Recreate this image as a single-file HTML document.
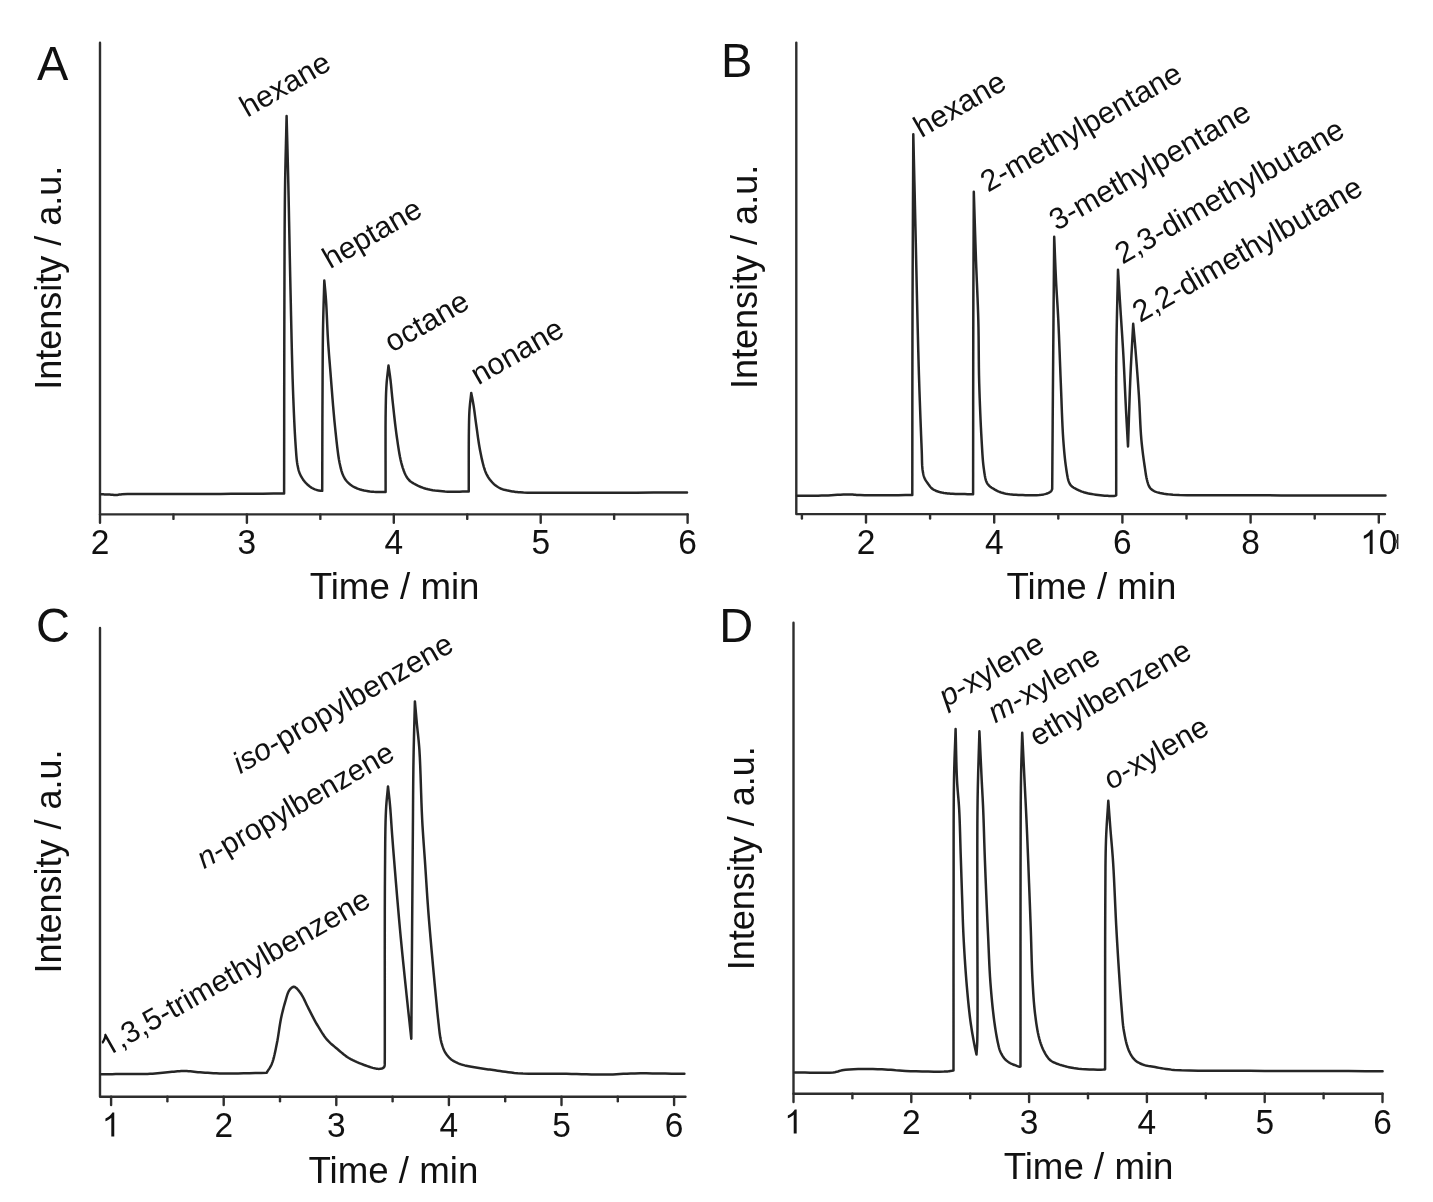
<!DOCTYPE html>
<html><head><meta charset="utf-8"><style>
html,body{margin:0;padding:0;background:#fff;}
svg{display:block;filter:grayscale(100%) blur(0.4px);}
text{font-family:"Liberation Sans", sans-serif;fill:#111;}
</style></head><body>
<svg width="1433" height="1202" viewBox="0 0 1433 1202">
<rect width="1433" height="1202" fill="#fff"/>
<path d="M100,42.7 L100,514.4 L687.7,514.4" fill="none" stroke="#2e2e2e" stroke-width="2.4" stroke-linejoin="round" stroke-linecap="round"/>
<line x1="100.0" y1="514.4" x2="100.0" y2="522.8" stroke="#2e2e2e" stroke-width="2.4" stroke-linecap="round"/>
<line x1="246.9" y1="514.4" x2="246.9" y2="522.8" stroke="#2e2e2e" stroke-width="2.4" stroke-linecap="round"/>
<line x1="393.8" y1="514.4" x2="393.8" y2="522.8" stroke="#2e2e2e" stroke-width="2.4" stroke-linecap="round"/>
<line x1="540.7" y1="514.4" x2="540.7" y2="522.8" stroke="#2e2e2e" stroke-width="2.4" stroke-linecap="round"/>
<line x1="687.6" y1="514.4" x2="687.6" y2="522.8" stroke="#2e2e2e" stroke-width="2.4" stroke-linecap="round"/>
<line x1="173.45" y1="514.4" x2="173.45" y2="518.9" stroke="#2e2e2e" stroke-width="2.4" stroke-linecap="round"/>
<line x1="320.35" y1="514.4" x2="320.35" y2="518.9" stroke="#2e2e2e" stroke-width="2.4" stroke-linecap="round"/>
<line x1="467.25" y1="514.4" x2="467.25" y2="518.9" stroke="#2e2e2e" stroke-width="2.4" stroke-linecap="round"/>
<line x1="614.15" y1="514.4" x2="614.15" y2="518.9" stroke="#2e2e2e" stroke-width="2.4" stroke-linecap="round"/>
<g transform="translate(100.00 554.00) scale(1 1.035)"><text x="-9.32" y="0" font-size="33.5">2</text></g>
<g transform="translate(246.90 554.00) scale(1 1.035)"><text x="-9.32" y="0" font-size="33.5">3</text></g>
<g transform="translate(393.80 554.00) scale(1 1.035)"><text x="-9.32" y="0" font-size="33.5">4</text></g>
<g transform="translate(540.70 554.00) scale(1 1.035)"><text x="-9.32" y="0" font-size="33.5">5</text></g>
<g transform="translate(687.60 554.00) scale(1 1.035)"><text x="-9.32" y="0" font-size="33.5">6</text></g>
<path d="M101.00,494.30 L102.14,494.34 L103.29,494.37 L104.46,494.40 L105.61,494.44 L106.76,494.47 L107.88,494.51 L108.96,494.55 L110.00,494.60 L110.81,494.65 L111.59,494.72 L112.34,494.79 L113.08,494.86 L113.80,494.92 L114.53,494.97 L115.26,495.00 L116.00,495.00 L116.70,494.96 L117.34,494.90 L117.95,494.81 L118.57,494.70 L119.25,494.59 L120.02,494.48 L120.92,494.38 L122.00,494.30 L127.50,494.10 L135.22,493.99 L144.65,493.94 L155.30,493.94 L166.65,493.97 L178.22,494.01 L189.51,494.02 L200.00,494.00 L210.36,493.95 L220.80,493.89 L231.31,493.83 L241.85,493.76 L252.42,493.70 L263.00,493.63 L273.57,493.56 L284.10,493.50 L284.13,468.94 L284.16,443.85 L284.19,418.55 L284.21,393.36 L284.25,368.59 L284.29,344.56 L284.34,321.59 L284.40,300.00 L284.45,284.62 L284.49,269.82 L284.54,255.53 L284.59,241.71 L284.65,228.30 L284.74,215.25 L284.85,202.50 L285.00,190.00 L285.15,180.05 L285.33,170.47 L285.53,161.18 L285.74,152.09 L285.96,143.11 L286.18,134.16 L286.39,125.15 L286.60,116.00 L286.81,124.27 L287.02,132.38 L287.24,140.44 L287.45,148.52 L287.66,156.73 L287.87,165.15 L288.09,173.88 L288.30,183.00 L288.57,195.21 L288.84,208.08 L289.10,221.46 L289.37,235.17 L289.64,249.04 L289.92,262.92 L290.21,276.63 L290.50,290.00 L290.79,302.87 L291.07,315.93 L291.36,329.05 L291.65,342.07 L291.96,354.82 L292.29,367.17 L292.63,378.94 L293.00,390.00 L293.29,397.84 L293.59,405.54 L293.90,413.02 L294.22,420.23 L294.55,427.09 L294.89,433.55 L295.24,439.54 L295.60,445.00 L295.81,448.03 L296.01,450.89 L296.20,453.58 L296.40,456.13 L296.62,458.53 L296.87,460.80 L297.16,462.96 L297.50,465.00 L297.75,466.31 L298.00,467.54 L298.26,468.70 L298.53,469.80 L298.84,470.87 L299.18,471.91 L299.56,472.95 L300.00,474.00 L300.49,475.06 L301.03,476.12 L301.60,477.16 L302.21,478.19 L302.86,479.19 L303.54,480.16 L304.26,481.10 L305.00,482.00 L305.77,482.86 L306.58,483.71 L307.43,484.53 L308.30,485.33 L309.20,486.08 L310.12,486.78 L311.06,487.42 L312.00,488.00 L312.92,488.48 L313.89,488.92 L314.90,489.31 L315.92,489.66 L316.91,489.96 L317.86,490.22 L318.73,490.43 L319.50,490.60 L319.90,490.67 L320.26,490.72 L320.60,490.75 L320.93,490.76 L321.24,490.77 L321.55,490.77 L321.87,490.78 L322.20,490.80 L322.24,479.37 L322.27,467.82 L322.30,456.23 L322.33,444.66 L322.37,433.19 L322.40,421.87 L322.45,410.79 L322.50,400.00 L322.54,390.73 L322.58,381.58 L322.62,372.55 L322.67,363.67 L322.72,354.96 L322.79,346.44 L322.88,338.11 L323.00,330.00 L323.12,323.40 L323.27,317.02 L323.43,310.81 L323.60,304.71 L323.78,298.69 L323.96,292.67 L324.13,286.63 L324.30,280.50 L324.51,282.89 L324.73,285.21 L324.95,287.51 L325.17,289.81 L325.38,292.18 L325.59,294.64 L325.80,297.23 L326.00,300.00 L326.27,304.35 L326.52,309.11 L326.75,314.16 L326.99,319.41 L327.22,324.72 L327.46,330.00 L327.72,335.13 L328.00,340.00 L328.27,344.07 L328.54,347.96 L328.82,351.74 L329.10,355.49 L329.41,359.28 L329.72,363.18 L330.05,367.26 L330.40,371.60 L330.89,377.82 L331.41,384.53 L331.96,391.58 L332.53,398.81 L333.12,406.08 L333.73,413.21 L334.36,420.07 L335.00,426.50 L335.53,431.56 L336.06,436.62 L336.60,441.62 L337.15,446.48 L337.73,451.11 L338.32,455.46 L338.94,459.45 L339.60,463.00 L339.99,464.85 L340.37,466.58 L340.75,468.18 L341.15,469.68 L341.56,471.10 L342.00,472.45 L342.48,473.74 L343.00,475.00 L343.42,475.94 L343.85,476.83 L344.29,477.67 L344.75,478.48 L345.24,479.26 L345.78,480.02 L346.36,480.76 L347.00,481.50 L347.80,482.34 L348.66,483.17 L349.57,483.97 L350.55,484.75 L351.58,485.50 L352.66,486.21 L353.80,486.88 L355.00,487.50 L356.60,488.21 L358.34,488.85 L360.19,489.44 L362.12,489.96 L364.09,490.43 L366.08,490.84 L368.06,491.19 L370.00,491.50 L371.92,491.73 L373.86,491.87 L375.81,491.94 L377.76,491.97 L379.73,491.97 L381.69,491.96 L383.65,491.96 L385.60,492.00 L385.60,481.43 L385.58,470.39 L385.56,459.17 L385.54,448.04 L385.54,437.28 L385.55,427.17 L385.60,417.99 L385.70,410.00 L385.76,406.16 L385.83,402.66 L385.89,399.43 L385.97,396.40 L386.06,393.50 L386.18,390.69 L386.32,387.87 L386.50,385.00 L386.69,382.45 L386.91,379.97 L387.16,377.54 L387.42,375.14 L387.70,372.76 L387.97,370.39 L388.24,368.01 L388.50,365.60 L388.75,367.38 L389.01,369.14 L389.26,370.89 L389.52,372.65 L389.77,374.42 L390.02,376.23 L390.26,378.09 L390.50,380.00 L390.76,382.30 L391.00,384.62 L391.23,386.98 L391.46,389.40 L391.69,391.90 L391.94,394.49 L392.20,397.18 L392.50,400.00 L392.95,404.18 L393.44,408.74 L393.97,413.55 L394.52,418.50 L395.09,423.49 L395.69,428.39 L396.29,433.10 L396.90,437.50 L397.40,440.93 L397.89,444.32 L398.40,447.65 L398.91,450.88 L399.45,454.01 L400.01,457.00 L400.61,459.84 L401.25,462.50 L401.74,464.33 L402.25,466.10 L402.77,467.80 L403.31,469.42 L403.86,470.96 L404.43,472.41 L405.01,473.76 L405.60,475.00 L406.00,475.77 L406.39,476.48 L406.79,477.14 L407.19,477.77 L407.60,478.35 L408.04,478.92 L408.50,479.46 L409.00,480.00 L409.51,480.51 L410.03,480.98 L410.56,481.42 L411.12,481.84 L411.71,482.25 L412.34,482.66 L413.02,483.07 L413.75,483.50 L414.97,484.18 L416.30,484.88 L417.75,485.59 L419.29,486.29 L420.90,486.98 L422.56,487.63 L424.27,488.22 L426.00,488.75 L428.14,489.30 L430.37,489.77 L432.68,490.18 L435.07,490.53 L437.51,490.83 L439.98,491.09 L442.49,491.31 L445.00,491.50 L447.84,491.65 L450.74,491.73 L453.70,491.74 L456.70,491.70 L459.72,491.64 L462.75,491.58 L465.76,491.52 L468.75,491.50 L468.76,483.72 L468.76,475.64 L468.76,467.44 L468.76,459.29 L468.76,451.40 L468.79,443.93 L468.83,437.07 L468.90,431.00 L468.95,427.84 L468.99,424.93 L469.04,422.23 L469.09,419.68 L469.16,417.23 L469.24,414.84 L469.35,412.44 L469.50,410.00 L469.66,407.79 L469.86,405.62 L470.07,403.49 L470.30,401.38 L470.54,399.29 L470.79,397.21 L471.02,395.11 L471.25,393.00 L471.53,394.48 L471.81,395.93 L472.10,397.36 L472.38,398.81 L472.66,400.27 L472.94,401.78 L473.22,403.35 L473.50,405.00 L473.85,407.24 L474.19,409.59 L474.52,412.03 L474.85,414.54 L475.18,417.11 L475.53,419.72 L475.88,422.36 L476.25,425.00 L476.68,428.02 L477.11,431.14 L477.54,434.34 L477.99,437.56 L478.46,440.78 L478.95,443.95 L479.46,447.04 L480.00,450.00 L480.50,452.54 L481.01,455.10 L481.55,457.64 L482.10,460.12 L482.66,462.51 L483.24,464.77 L483.82,466.86 L484.40,468.75 L484.77,469.84 L485.13,470.86 L485.50,471.81 L485.87,472.70 L486.25,473.56 L486.64,474.38 L487.06,475.19 L487.50,476.00 L487.92,476.72 L488.36,477.43 L488.82,478.11 L489.29,478.78 L489.77,479.42 L490.26,480.05 L490.76,480.66 L491.25,481.25 L491.69,481.77 L492.13,482.27 L492.57,482.75 L493.01,483.22 L493.47,483.67 L493.95,484.12 L494.46,484.56 L495.00,485.00 L495.68,485.51 L496.39,486.02 L497.13,486.53 L497.90,487.02 L498.71,487.49 L499.53,487.94 L500.38,488.36 L501.25,488.75 L502.25,489.14 L503.29,489.48 L504.36,489.79 L505.46,490.06 L506.58,490.32 L507.72,490.55 L508.86,490.78 L510.00,491.00 L511.17,491.22 L512.29,491.42 L513.40,491.60 L514.53,491.76 L515.72,491.91 L517.01,492.05 L518.42,492.18 L520.00,492.30 L523.57,492.50 L527.59,492.63 L532.05,492.71 L536.92,492.75 L542.18,492.77 L547.79,492.77 L553.74,492.78 L560.00,492.80 L572.46,492.84 L586.73,492.83 L602.40,492.80 L619.04,492.75 L636.24,492.68 L653.58,492.61 L670.64,492.55 L687.00,492.50" fill="none" stroke="#262626" stroke-width="2.5" stroke-linejoin="round" stroke-linecap="round"/>
<text font-size="47" transform="translate(36.9 79.7) scale(1 1.01)">A</text>
<text x="61.5" y="277.7" font-size="36" text-anchor="middle" transform="rotate(-90 61.5 277.7)">Intensity / a.u.</text>
<text x="394.6" y="599.4" font-size="36.7" text-anchor="middle">Time / min</text>
<text x="247.2" y="117.8" font-size="30.1" transform="rotate(-30 247.2 117.8)" text-anchor="start" >hexane</text>
<text x="329.9" y="269.3" font-size="30.1" transform="rotate(-30 329.9 269.3)" text-anchor="start" >heptane</text>
<text x="392" y="353.1" font-size="30.5" transform="rotate(-30 392 353.1)" text-anchor="start" >octane</text>
<text x="478.2" y="385.6" font-size="30.4" transform="rotate(-30 478.2 385.6)" text-anchor="start" >nonane</text>
<path d="M796.3,42.6 L796.3,514.1 L1385,514.1" fill="none" stroke="#2e2e2e" stroke-width="2.4" stroke-linejoin="round" stroke-linecap="round"/>
<line x1="866.0" y1="514.1" x2="866.0" y2="522.5" stroke="#2e2e2e" stroke-width="2.4" stroke-linecap="round"/>
<line x1="994.2" y1="514.1" x2="994.2" y2="522.5" stroke="#2e2e2e" stroke-width="2.4" stroke-linecap="round"/>
<line x1="1122.4" y1="514.1" x2="1122.4" y2="522.5" stroke="#2e2e2e" stroke-width="2.4" stroke-linecap="round"/>
<line x1="1250.6" y1="514.1" x2="1250.6" y2="522.5" stroke="#2e2e2e" stroke-width="2.4" stroke-linecap="round"/>
<line x1="1378.8" y1="514.1" x2="1378.8" y2="522.5" stroke="#2e2e2e" stroke-width="2.4" stroke-linecap="round"/>
<line x1="801.9" y1="514.1" x2="801.9" y2="518.6" stroke="#2e2e2e" stroke-width="2.4" stroke-linecap="round"/>
<line x1="930.1" y1="514.1" x2="930.1" y2="518.6" stroke="#2e2e2e" stroke-width="2.4" stroke-linecap="round"/>
<line x1="1058.3" y1="514.1" x2="1058.3" y2="518.6" stroke="#2e2e2e" stroke-width="2.4" stroke-linecap="round"/>
<line x1="1186.5" y1="514.1" x2="1186.5" y2="518.6" stroke="#2e2e2e" stroke-width="2.4" stroke-linecap="round"/>
<line x1="1314.6999999999998" y1="514.1" x2="1314.6999999999998" y2="518.6" stroke="#2e2e2e" stroke-width="2.4" stroke-linecap="round"/>
<g transform="translate(866.00 554.00) scale(1 1.035)"><text x="-9.32" y="0" font-size="33.5">2</text></g>
<g transform="translate(994.20 554.00) scale(1 1.035)"><text x="-9.32" y="0" font-size="33.5">4</text></g>
<g transform="translate(1122.40 554.00) scale(1 1.035)"><text x="-9.32" y="0" font-size="33.5">6</text></g>
<g transform="translate(1250.60 554.00) scale(1 1.035)"><text x="-9.32" y="0" font-size="33.5">8</text></g>
<g transform="translate(1378.80 554.00) scale(1 1.035)"><path d="M763 0H583V1147Q518 1085 412.5 1023T223 930V1104Q374 1175 487 1276T647 1472H763V0Z" transform="translate(-18.63 0) scale(0.01636 -0.01587)" fill="#111"/><text x="0.00" y="0" font-size="33.5">0</text></g>
<path d="M797.00,495.80 L800.52,495.77 L804.06,495.75 L807.61,495.73 L811.15,495.71 L814.68,495.68 L818.17,495.64 L821.62,495.58 L825.00,495.50 L828.11,495.38 L831.24,495.22 L834.37,495.04 L837.46,494.84 L840.46,494.67 L843.35,494.52 L846.07,494.42 L848.60,494.40 L850.16,494.43 L851.54,494.50 L852.81,494.59 L854.04,494.70 L855.30,494.82 L856.66,494.93 L858.21,495.03 L860.00,495.10 L864.72,495.20 L870.40,495.24 L876.83,495.25 L883.77,495.23 L891.02,495.19 L898.33,495.15 L905.50,495.11 L912.30,495.10 L912.32,473.25 L912.34,451.45 L912.35,429.67 L912.36,407.87 L912.38,386.04 L912.41,364.14 L912.45,342.14 L912.50,320.00 L912.57,297.04 L912.66,273.94 L912.76,250.73 L912.86,227.44 L912.97,204.12 L913.09,180.78 L913.20,157.46 L913.30,134.20 L913.58,146.20 L913.85,158.22 L914.13,170.26 L914.41,182.29 L914.69,194.29 L914.96,206.26 L915.23,218.17 L915.50,230.00 L915.76,241.49 L916.01,253.07 L916.26,264.66 L916.51,276.18 L916.75,287.55 L917.00,298.69 L917.25,309.54 L917.50,320.00 L917.71,328.40 L917.91,336.49 L918.10,344.36 L918.30,352.08 L918.51,359.73 L918.72,367.38 L918.95,375.11 L919.20,383.00 L919.48,391.55 L919.80,400.53 L920.13,409.70 L920.47,418.83 L920.81,427.66 L921.13,435.97 L921.44,443.49 L921.70,450.00 L921.81,453.12 L921.89,456.04 L921.95,458.76 L922.01,461.31 L922.09,463.69 L922.21,465.92 L922.37,468.02 L922.60,470.00 L922.77,471.19 L922.95,472.30 L923.14,473.34 L923.35,474.33 L923.58,475.28 L923.85,476.20 L924.15,477.10 L924.50,478.00 L924.87,478.82 L925.28,479.62 L925.73,480.40 L926.20,481.15 L926.70,481.89 L927.20,482.61 L927.70,483.31 L928.20,484.00 L928.65,484.62 L929.10,485.24 L929.55,485.84 L930.01,486.43 L930.48,486.99 L930.97,487.53 L931.47,488.03 L932.00,488.50 L932.51,488.90 L933.03,489.26 L933.57,489.60 L934.12,489.91 L934.69,490.20 L935.28,490.47 L935.88,490.74 L936.50,491.00 L937.24,491.29 L938.01,491.55 L938.81,491.80 L939.62,492.03 L940.46,492.24 L941.30,492.44 L942.15,492.63 L943.00,492.80 L943.88,492.97 L944.74,493.11 L945.60,493.23 L946.47,493.34 L947.38,493.44 L948.34,493.53 L949.38,493.62 L950.50,493.70 L952.77,493.83 L955.53,493.93 L958.59,494.01 L961.75,494.08 L964.80,494.12 L967.56,494.16 L969.83,494.18 L971.40,494.20 L971.70,494.20 L971.96,494.20 L972.18,494.20 L972.37,494.20 L972.55,494.20 L972.72,494.20 L972.90,494.20 L973.10,494.20 L973.12,472.24 L973.14,450.03 L973.16,427.71 L973.17,405.44 L973.19,383.38 L973.22,361.68 L973.26,340.50 L973.30,320.00 L973.35,303.03 L973.40,286.55 L973.47,270.45 L973.53,254.63 L973.60,238.95 L973.67,223.32 L973.74,207.60 L973.80,191.70 L974.07,200.27 L974.34,208.88 L974.61,217.51 L974.88,226.13 L975.16,234.71 L975.43,243.24 L975.71,251.67 L976.00,260.00 L976.29,267.68 L976.59,275.24 L976.91,282.72 L977.22,290.15 L977.53,297.56 L977.82,304.99 L978.08,312.46 L978.30,320.00 L978.47,327.82 L978.59,335.72 L978.67,343.65 L978.74,351.60 L978.81,359.54 L978.89,367.44 L979.02,375.27 L979.20,383.00 L979.42,390.40 L979.68,397.93 L979.96,405.47 L980.26,412.94 L980.58,420.23 L980.92,427.24 L981.26,433.86 L981.60,440.00 L981.83,444.03 L982.05,447.90 L982.27,451.61 L982.50,455.17 L982.74,458.58 L983.02,461.84 L983.33,464.94 L983.70,467.90 L983.98,469.95 L984.26,471.96 L984.55,473.90 L984.86,475.77 L985.20,477.52 L985.58,479.14 L986.01,480.61 L986.50,481.90 L986.82,482.57 L987.15,483.18 L987.50,483.73 L987.87,484.23 L988.25,484.69 L988.65,485.14 L989.07,485.57 L989.50,486.00 L989.94,486.41 L990.41,486.79 L990.89,487.15 L991.38,487.49 L991.89,487.82 L992.42,488.14 L992.95,488.47 L993.50,488.80 L994.13,489.18 L994.78,489.57 L995.45,489.95 L996.13,490.33 L996.82,490.70 L997.54,491.05 L998.26,491.39 L999.00,491.70 L999.80,492.01 L1000.60,492.30 L1001.40,492.57 L1002.23,492.83 L1003.09,493.06 L1004.00,493.29 L1004.96,493.50 L1006.00,493.70 L1007.73,493.98 L1009.63,494.23 L1011.67,494.45 L1013.82,494.64 L1016.04,494.80 L1018.30,494.93 L1020.56,495.03 L1022.80,495.10 L1025.38,495.16 L1028.13,495.21 L1030.98,495.23 L1033.83,495.21 L1036.61,495.13 L1039.23,494.98 L1041.62,494.74 L1043.70,494.40 L1044.81,494.15 L1045.88,493.86 L1046.88,493.55 L1047.81,493.21 L1048.67,492.85 L1049.45,492.46 L1050.12,492.04 L1050.70,491.60 L1051.00,491.31 L1051.23,491.00 L1051.43,490.67 L1051.59,490.34 L1051.74,490.00 L1051.88,489.67 L1052.03,489.33 L1052.20,489.00 L1052.30,475.48 L1052.39,462.10 L1052.49,448.78 L1052.59,435.43 L1052.68,421.97 L1052.78,408.30 L1052.89,394.34 L1053.00,380.00 L1053.14,363.02 L1053.28,345.55 L1053.43,327.70 L1053.58,309.57 L1053.74,291.30 L1053.89,272.98 L1054.05,254.75 L1054.20,236.70 L1054.42,242.12 L1054.64,247.57 L1054.85,253.01 L1055.06,258.46 L1055.28,263.89 L1055.51,269.30 L1055.75,274.67 L1056.00,280.00 L1056.26,285.01 L1056.54,289.90 L1056.83,294.72 L1057.13,299.53 L1057.43,304.41 L1057.73,309.40 L1058.02,314.58 L1058.30,320.00 L1058.63,327.21 L1058.95,334.82 L1059.26,342.72 L1059.57,350.81 L1059.87,358.98 L1060.18,367.14 L1060.48,375.18 L1060.80,383.00 L1061.09,390.40 L1061.38,397.92 L1061.65,405.47 L1061.93,412.94 L1062.23,420.23 L1062.55,427.24 L1062.90,433.86 L1063.30,440.00 L1063.60,444.03 L1063.91,447.90 L1064.23,451.62 L1064.56,455.18 L1064.92,458.58 L1065.29,461.84 L1065.68,464.94 L1066.10,467.90 L1066.40,469.95 L1066.70,471.95 L1067.01,473.90 L1067.33,475.76 L1067.67,477.51 L1068.04,479.13 L1068.45,480.60 L1068.90,481.90 L1069.18,482.57 L1069.46,483.17 L1069.75,483.72 L1070.06,484.22 L1070.38,484.69 L1070.72,485.14 L1071.10,485.57 L1071.50,486.00 L1071.95,486.42 L1072.44,486.81 L1072.95,487.17 L1073.48,487.51 L1074.04,487.84 L1074.62,488.16 L1075.20,488.48 L1075.80,488.80 L1076.50,489.18 L1077.23,489.55 L1077.99,489.92 L1078.76,490.28 L1079.55,490.63 L1080.35,490.97 L1081.17,491.29 L1082.00,491.60 L1082.90,491.91 L1083.80,492.21 L1084.71,492.48 L1085.64,492.74 L1086.60,492.99 L1087.61,493.24 L1088.67,493.47 L1089.80,493.70 L1091.62,494.03 L1093.66,494.36 L1095.84,494.68 L1098.10,494.97 L1100.37,495.24 L1102.57,495.47 L1104.64,495.66 L1106.50,495.80 L1107.74,495.87 L1108.97,495.93 L1110.18,495.97 L1111.34,495.99 L1112.42,495.98 L1113.39,495.95 L1114.22,495.89 L1114.90,495.80 L1115.12,495.75 L1115.31,495.70 L1115.48,495.63 L1115.63,495.57 L1115.77,495.50 L1115.90,495.43 L1116.05,495.36 L1116.20,495.30 L1116.21,476.84 L1116.20,457.97 L1116.18,438.93 L1116.16,419.97 L1116.16,401.35 L1116.19,383.31 L1116.27,366.11 L1116.40,350.00 L1116.54,338.84 L1116.71,328.29 L1116.91,318.19 L1117.12,308.42 L1117.35,298.83 L1117.57,289.30 L1117.79,279.66 L1118.00,269.80 L1118.31,274.81 L1118.62,279.81 L1118.93,284.80 L1119.24,289.79 L1119.55,294.79 L1119.86,299.82 L1120.18,304.89 L1120.50,310.00 L1120.84,315.37 L1121.20,320.74 L1121.55,326.12 L1121.91,331.54 L1122.27,337.02 L1122.62,342.58 L1122.97,348.23 L1123.30,354.00 L1123.66,360.76 L1124.01,367.80 L1124.36,375.03 L1124.70,382.32 L1125.03,389.58 L1125.35,396.68 L1125.68,403.53 L1126.00,410.00 L1126.26,414.94 L1126.51,419.67 L1126.76,424.26 L1127.01,428.74 L1127.26,433.15 L1127.50,437.56 L1127.75,441.99 L1128.00,446.50 L1128.31,437.44 L1128.61,428.26 L1128.90,419.03 L1129.20,409.83 L1129.51,400.72 L1129.82,391.78 L1130.15,383.08 L1130.50,374.70 L1130.81,367.92 L1131.14,361.36 L1131.47,354.97 L1131.82,348.70 L1132.16,342.50 L1132.51,336.32 L1132.86,330.10 L1133.20,323.80 L1133.49,327.03 L1133.77,330.18 L1134.05,333.31 L1134.33,336.45 L1134.62,339.65 L1134.91,342.94 L1135.20,346.38 L1135.50,350.00 L1135.91,355.09 L1136.34,360.51 L1136.78,366.17 L1137.23,372.00 L1137.67,377.92 L1138.10,383.87 L1138.51,389.75 L1138.90,395.50 L1139.24,401.16 L1139.54,406.90 L1139.81,412.68 L1140.07,418.43 L1140.34,424.10 L1140.65,429.62 L1140.99,434.94 L1141.40,440.00 L1141.78,443.88 L1142.19,447.71 L1142.63,451.45 L1143.09,455.08 L1143.56,458.57 L1144.02,461.89 L1144.47,465.01 L1144.90,467.90 L1145.16,469.68 L1145.40,471.35 L1145.63,472.94 L1145.87,474.46 L1146.11,475.91 L1146.37,477.31 L1146.67,478.67 L1147.00,480.00 L1147.29,481.06 L1147.57,482.10 L1147.87,483.12 L1148.18,484.10 L1148.52,485.04 L1148.90,485.92 L1149.32,486.75 L1149.80,487.50 L1150.23,488.07 L1150.70,488.58 L1151.19,489.06 L1151.71,489.50 L1152.25,489.91 L1152.82,490.29 L1153.40,490.65 L1154.00,491.00 L1154.66,491.34 L1155.33,491.64 L1156.03,491.91 L1156.75,492.16 L1157.50,492.38 L1158.29,492.59 L1159.12,492.79 L1160.00,493.00 L1161.30,493.28 L1162.63,493.54 L1164.02,493.78 L1165.49,493.99 L1167.10,494.19 L1168.86,494.37 L1170.82,494.54 L1173.00,494.70 L1179.40,495.02 L1187.21,495.21 L1196.21,495.31 L1206.12,495.34 L1216.71,495.33 L1227.72,495.30 L1238.90,495.28 L1250.00,495.30 L1265.12,495.35 L1281.20,495.38 L1298.03,495.40 L1315.37,495.40 L1333.02,495.40 L1350.73,495.39 L1368.30,495.39 L1385.50,495.40" fill="none" stroke="#262626" stroke-width="2.5" stroke-linejoin="round" stroke-linecap="round"/>
<text font-size="47" transform="translate(721.1 76.5) scale(1 1.01)">B</text>
<text x="757" y="276.9" font-size="36" text-anchor="middle" transform="rotate(-90 757 276.9)">Intensity / a.u.</text>
<text x="1091.5" y="599.4" font-size="36.7" text-anchor="middle">Time / min</text>
<text x="921.3" y="138.2" font-size="30.6" transform="rotate(-30 921.3 138.2)" text-anchor="start" >hexane</text>
<text x="988" y="192.7" font-size="30.4" transform="rotate(-30 988 192.7)" text-anchor="start" >2-methylpentane</text>
<text x="1056.8" y="231.25" font-size="30.4" transform="rotate(-30 1056.8 231.25)" text-anchor="start" >3-methylpentane</text>
<text x="1122.6" y="264.7" font-size="30.4" transform="rotate(-30 1122.6 264.7)" text-anchor="start" >2,3-dimethylbutane</text>
<text x="1140" y="323.05" font-size="30.5" transform="rotate(-30 1140 323.05)" text-anchor="start" >2,2-dimethylbutane</text>
<line x1="1397.6" y1="534" x2="1397.6" y2="549" stroke="#222" stroke-width="1.6"/><rect x="1395" y="539.6" width="2.8" height="3.6" fill="#444"/>
<path d="M100,627.9000000000001 L100,1096.7 L685.5,1096.7" fill="none" stroke="#2e2e2e" stroke-width="2.4" stroke-linejoin="round" stroke-linecap="round"/>
<line x1="111.1" y1="1096.7" x2="111.1" y2="1105.1000000000001" stroke="#2e2e2e" stroke-width="2.4" stroke-linecap="round"/>
<line x1="223.7" y1="1096.7" x2="223.7" y2="1105.1000000000001" stroke="#2e2e2e" stroke-width="2.4" stroke-linecap="round"/>
<line x1="336.29999999999995" y1="1096.7" x2="336.29999999999995" y2="1105.1000000000001" stroke="#2e2e2e" stroke-width="2.4" stroke-linecap="round"/>
<line x1="448.9" y1="1096.7" x2="448.9" y2="1105.1000000000001" stroke="#2e2e2e" stroke-width="2.4" stroke-linecap="round"/>
<line x1="561.5" y1="1096.7" x2="561.5" y2="1105.1000000000001" stroke="#2e2e2e" stroke-width="2.4" stroke-linecap="round"/>
<line x1="674.1" y1="1096.7" x2="674.1" y2="1105.1000000000001" stroke="#2e2e2e" stroke-width="2.4" stroke-linecap="round"/>
<line x1="167.39999999999998" y1="1096.7" x2="167.39999999999998" y2="1101.2" stroke="#2e2e2e" stroke-width="2.4" stroke-linecap="round"/>
<line x1="280.0" y1="1096.7" x2="280.0" y2="1101.2" stroke="#2e2e2e" stroke-width="2.4" stroke-linecap="round"/>
<line x1="392.6" y1="1096.7" x2="392.6" y2="1101.2" stroke="#2e2e2e" stroke-width="2.4" stroke-linecap="round"/>
<line x1="505.19999999999993" y1="1096.7" x2="505.19999999999993" y2="1101.2" stroke="#2e2e2e" stroke-width="2.4" stroke-linecap="round"/>
<line x1="617.8" y1="1096.7" x2="617.8" y2="1101.2" stroke="#2e2e2e" stroke-width="2.4" stroke-linecap="round"/>
<g transform="translate(111.10 1136.60) scale(1 1.035)"><path d="M763 0H583V1147Q518 1085 412.5 1023T223 930V1104Q374 1175 487 1276T647 1472H763V0Z" transform="translate(-9.32 0) scale(0.01636 -0.01587)" fill="#111"/></g>
<g transform="translate(223.70 1136.60) scale(1 1.035)"><text x="-9.32" y="0" font-size="33.5">2</text></g>
<g transform="translate(336.30 1136.60) scale(1 1.035)"><text x="-9.32" y="0" font-size="33.5">3</text></g>
<g transform="translate(448.90 1136.60) scale(1 1.035)"><text x="-9.32" y="0" font-size="33.5">4</text></g>
<g transform="translate(561.50 1136.60) scale(1 1.035)"><text x="-9.32" y="0" font-size="33.5">5</text></g>
<g transform="translate(674.10 1136.60) scale(1 1.035)"><text x="-9.32" y="0" font-size="33.5">6</text></g>
<path d="M101.00,1074.20 L104.66,1074.18 L108.38,1074.15 L112.11,1074.13 L115.84,1074.10 L119.52,1074.08 L123.13,1074.05 L126.63,1074.03 L130.00,1074.00 L132.68,1073.99 L135.26,1073.99 L137.77,1074.00 L140.23,1074.00 L142.67,1073.99 L145.09,1073.96 L147.53,1073.90 L150.00,1073.80 L152.52,1073.65 L155.07,1073.45 L157.63,1073.21 L160.19,1072.96 L162.72,1072.69 L165.21,1072.44 L167.64,1072.20 L170.00,1072.00 L171.97,1071.83 L173.88,1071.66 L175.74,1071.49 L177.58,1071.33 L179.40,1071.19 L181.22,1071.08 L183.05,1071.01 L184.90,1071.00 L186.76,1071.05 L188.60,1071.17 L190.42,1071.33 L192.25,1071.52 L194.11,1071.73 L196.01,1071.94 L197.97,1072.14 L200.00,1072.30 L202.56,1072.48 L205.15,1072.66 L207.81,1072.84 L210.55,1073.02 L213.38,1073.17 L216.32,1073.31 L219.39,1073.42 L222.60,1073.50 L227.40,1073.54 L232.58,1073.52 L238.03,1073.44 L243.69,1073.32 L249.46,1073.18 L255.26,1073.04 L261.00,1072.91 L266.60,1072.80 L267.26,1071.72 L267.93,1070.68 L268.61,1069.65 L269.29,1068.62 L269.95,1067.56 L270.60,1066.43 L271.22,1065.22 L271.80,1063.90 L272.57,1061.82 L273.27,1059.55 L273.93,1057.11 L274.55,1054.55 L275.13,1051.90 L275.70,1049.20 L276.25,1046.49 L276.80,1043.80 L277.39,1040.76 L277.93,1037.59 L278.44,1034.34 L278.93,1031.06 L279.41,1027.79 L279.91,1024.60 L280.44,1021.52 L281.00,1018.60 L281.49,1016.32 L281.98,1014.10 L282.49,1011.93 L283.01,1009.83 L283.54,1007.77 L284.08,1005.77 L284.63,1003.81 L285.20,1001.90 L285.68,1000.27 L286.14,998.63 L286.60,997.00 L287.08,995.41 L287.58,993.90 L288.13,992.51 L288.73,991.27 L289.40,990.20 L289.89,989.55 L290.42,988.93 L290.96,988.34 L291.53,987.82 L292.11,987.38 L292.70,987.05 L293.30,986.85 L293.90,986.80 L294.66,986.97 L295.45,987.39 L296.26,988.00 L297.08,988.78 L297.90,989.68 L298.71,990.66 L299.52,991.68 L300.30,992.70 L301.39,994.27 L302.45,996.06 L303.49,998.02 L304.51,1000.10 L305.53,1002.25 L306.54,1004.42 L307.57,1006.55 L308.60,1008.60 L309.64,1010.59 L310.66,1012.60 L311.67,1014.60 L312.70,1016.60 L313.73,1018.60 L314.79,1020.59 L315.87,1022.55 L317.00,1024.50 L318.16,1026.46 L319.35,1028.45 L320.56,1030.44 L321.79,1032.41 L323.05,1034.33 L324.34,1036.18 L325.66,1037.95 L327.00,1039.60 L328.19,1040.93 L329.41,1042.16 L330.64,1043.33 L331.90,1044.45 L333.18,1045.54 L334.47,1046.61 L335.78,1047.69 L337.10,1048.80 L338.48,1049.99 L339.87,1051.18 L341.26,1052.38 L342.67,1053.57 L344.12,1054.74 L345.62,1055.87 L347.17,1056.96 L348.80,1058.00 L350.72,1059.10 L352.75,1060.17 L354.87,1061.19 L357.04,1062.17 L359.23,1063.09 L361.41,1063.96 L363.54,1064.77 L365.60,1065.50 L367.37,1066.11 L369.18,1066.73 L370.99,1067.32 L372.78,1067.86 L374.50,1068.31 L376.14,1068.65 L377.65,1068.86 L379.00,1068.90 L379.77,1068.85 L380.52,1068.78 L381.23,1068.66 L381.91,1068.49 L382.53,1068.27 L383.09,1067.98 L383.58,1067.63 L384.00,1067.20 L384.36,1066.57 L384.58,1065.80 L384.70,1064.91 L384.74,1063.95 L384.74,1062.95 L384.73,1061.93 L384.74,1060.94 L384.80,1060.00 L384.81,1035.52 L384.80,1010.00 L384.79,984.07 L384.77,958.34 L384.78,933.44 L384.81,910.01 L384.88,888.65 L385.00,870.00 L385.08,860.70 L385.14,851.99 L385.21,843.82 L385.29,836.17 L385.40,829.00 L385.55,822.27 L385.74,815.95 L386.00,810.00 L386.20,806.53 L386.43,803.34 L386.67,800.35 L386.93,797.52 L387.20,794.77 L387.48,792.05 L387.74,789.28 L388.00,786.40 L388.25,788.69 L388.50,790.91 L388.76,793.12 L389.01,795.34 L389.26,797.60 L389.51,799.94 L389.76,802.40 L390.00,805.00 L390.31,808.71 L390.60,812.54 L390.88,816.51 L391.16,820.67 L391.45,825.03 L391.76,829.64 L392.11,834.52 L392.50,839.70 L393.23,849.05 L394.08,859.63 L395.01,871.11 L395.99,883.12 L397.01,895.32 L398.04,907.35 L399.04,918.86 L400.00,929.50 L400.76,937.61 L401.51,945.46 L402.27,953.11 L403.02,960.57 L403.77,967.89 L404.51,975.12 L405.26,982.27 L406.00,989.40 L406.67,995.80 L407.34,1002.09 L408.00,1008.27 L408.66,1014.40 L409.32,1020.48 L409.98,1026.56 L410.64,1032.66 L411.30,1038.80 L411.49,1013.30 L411.69,986.93 L411.88,960.20 L412.08,933.65 L412.27,907.80 L412.46,883.18 L412.64,860.30 L412.80,839.70 L412.89,827.94 L412.97,816.97 L413.03,806.65 L413.10,796.84 L413.17,787.42 L413.26,778.22 L413.37,769.13 L413.50,760.00 L413.64,752.24 L413.80,744.72 L413.97,737.37 L414.15,730.14 L414.34,722.98 L414.53,715.84 L414.72,708.66 L414.90,701.40 L415.16,704.35 L415.42,707.29 L415.68,710.22 L415.94,713.16 L416.20,716.10 L416.46,719.06 L416.73,722.02 L417.00,725.00 L417.29,727.99 L417.60,730.88 L417.91,733.73 L418.22,736.62 L418.53,739.60 L418.83,742.77 L419.12,746.18 L419.40,749.90 L419.82,757.07 L420.18,765.29 L420.52,774.27 L420.83,783.70 L421.14,793.29 L421.46,802.74 L421.81,811.74 L422.20,820.00 L422.54,826.09 L422.90,831.93 L423.28,837.57 L423.66,843.07 L424.05,848.50 L424.43,853.91 L424.82,859.36 L425.20,864.90 L425.57,870.51 L425.93,876.13 L426.29,881.74 L426.65,887.35 L427.02,892.96 L427.39,898.58 L427.79,904.19 L428.20,909.80 L428.63,915.41 L429.08,921.02 L429.55,926.63 L430.03,932.24 L430.51,937.85 L431.00,943.46 L431.50,949.08 L432.00,954.70 L432.52,960.48 L433.06,966.44 L433.61,972.48 L434.17,978.48 L434.71,984.34 L435.24,989.96 L435.74,995.21 L436.20,1000.00 L436.48,1002.89 L436.73,1005.57 L436.97,1008.09 L437.20,1010.51 L437.43,1012.86 L437.67,1015.19 L437.93,1017.56 L438.20,1020.00 L438.48,1022.55 L438.76,1025.17 L439.04,1027.82 L439.33,1030.45 L439.64,1033.02 L439.99,1035.50 L440.37,1037.84 L440.80,1040.00 L441.14,1041.45 L441.50,1042.85 L441.88,1044.19 L442.27,1045.47 L442.68,1046.69 L443.11,1047.85 L443.55,1048.96 L444.00,1050.00 L444.34,1050.73 L444.68,1051.41 L445.02,1052.05 L445.38,1052.66 L445.74,1053.25 L446.13,1053.83 L446.55,1054.41 L447.00,1055.00 L447.53,1055.66 L448.08,1056.32 L448.66,1056.97 L449.26,1057.62 L449.90,1058.25 L450.57,1058.86 L451.27,1059.44 L452.00,1060.00 L452.87,1060.59 L453.79,1061.16 L454.76,1061.70 L455.76,1062.21 L456.80,1062.69 L457.85,1063.15 L458.92,1063.59 L460.00,1064.00 L461.17,1064.41 L462.37,1064.77 L463.60,1065.10 L464.85,1065.41 L466.11,1065.69 L467.40,1065.96 L468.69,1066.23 L470.00,1066.50 L471.44,1066.79 L472.90,1067.06 L474.39,1067.32 L475.89,1067.56 L477.41,1067.80 L478.94,1068.04 L480.47,1068.27 L482.00,1068.50 L483.57,1068.74 L485.13,1068.96 L486.68,1069.18 L488.24,1069.40 L489.84,1069.61 L491.48,1069.83 L493.20,1070.06 L495.00,1070.30 L497.48,1070.65 L500.03,1071.03 L502.67,1071.43 L505.41,1071.84 L508.27,1072.23 L511.26,1072.60 L514.40,1072.93 L517.70,1073.20 L522.95,1073.48 L528.72,1073.65 L534.88,1073.73 L541.28,1073.75 L547.78,1073.74 L554.25,1073.73 L560.53,1073.74 L566.50,1073.80 L571.62,1073.90 L576.69,1074.04 L581.69,1074.18 L586.62,1074.33 L591.48,1074.46 L596.24,1074.56 L600.92,1074.61 L605.50,1074.60 L609.31,1074.53 L612.94,1074.39 L616.46,1074.22 L619.93,1074.03 L623.43,1073.83 L627.03,1073.65 L630.80,1073.50 L634.80,1073.40 L640.38,1073.34 L646.29,1073.34 L652.45,1073.39 L658.79,1073.46 L665.23,1073.55 L671.70,1073.65 L678.11,1073.73 L684.40,1073.80" fill="none" stroke="#262626" stroke-width="2.5" stroke-linejoin="round" stroke-linecap="round"/>
<text font-size="47" transform="translate(36 641.7) scale(1 1.01)">C</text>
<text x="60.5" y="861.5" font-size="36" text-anchor="middle" transform="rotate(-90 60.5 861.5)">Intensity / a.u.</text>
<text x="393.4" y="1182.5" font-size="36.7" text-anchor="middle">Time / min</text>
<g transform="translate(106.5 1057.2) rotate(-29.7)"><path d="M763 0H583V1147Q518 1085 412.5 1023T223 930V1104Q374 1175 487 1276T647 1472H763V0Z" transform="translate(0.00 0) scale(0.01470 -0.01426)" fill="#111"/><text x="16.74" y="0" font-size="30.1">,3,5-trimethylbenzene</text></g>
<text x="204.1" y="869.35" font-size="29.8" transform="rotate(-30 204.1 869.35)" text-anchor="start" ><tspan font-style="italic">n</tspan>-propylbenzene</text>
<text x="240.3" y="774.2" font-size="30.4" transform="rotate(-30 240.3 774.2)" text-anchor="start" ><tspan font-style="italic">iso</tspan>-propylbenzene</text>
<path d="M793.5,622.8000000000001 L793.5,1093.7 L1382.6,1093.7" fill="none" stroke="#2e2e2e" stroke-width="2.4" stroke-linejoin="round" stroke-linecap="round"/>
<line x1="793.5" y1="1093.7" x2="793.5" y2="1102.1000000000001" stroke="#2e2e2e" stroke-width="2.4" stroke-linecap="round"/>
<line x1="911.3" y1="1093.7" x2="911.3" y2="1102.1000000000001" stroke="#2e2e2e" stroke-width="2.4" stroke-linecap="round"/>
<line x1="1029.1" y1="1093.7" x2="1029.1" y2="1102.1000000000001" stroke="#2e2e2e" stroke-width="2.4" stroke-linecap="round"/>
<line x1="1146.9" y1="1093.7" x2="1146.9" y2="1102.1000000000001" stroke="#2e2e2e" stroke-width="2.4" stroke-linecap="round"/>
<line x1="1264.7" y1="1093.7" x2="1264.7" y2="1102.1000000000001" stroke="#2e2e2e" stroke-width="2.4" stroke-linecap="round"/>
<line x1="1382.5" y1="1093.7" x2="1382.5" y2="1102.1000000000001" stroke="#2e2e2e" stroke-width="2.4" stroke-linecap="round"/>
<line x1="852.4" y1="1093.7" x2="852.4" y2="1098.2" stroke="#2e2e2e" stroke-width="2.4" stroke-linecap="round"/>
<line x1="970.2" y1="1093.7" x2="970.2" y2="1098.2" stroke="#2e2e2e" stroke-width="2.4" stroke-linecap="round"/>
<line x1="1088.0" y1="1093.7" x2="1088.0" y2="1098.2" stroke="#2e2e2e" stroke-width="2.4" stroke-linecap="round"/>
<line x1="1205.8" y1="1093.7" x2="1205.8" y2="1098.2" stroke="#2e2e2e" stroke-width="2.4" stroke-linecap="round"/>
<line x1="1323.6" y1="1093.7" x2="1323.6" y2="1098.2" stroke="#2e2e2e" stroke-width="2.4" stroke-linecap="round"/>
<g transform="translate(793.50 1133.60) scale(1 1.035)"><path d="M763 0H583V1147Q518 1085 412.5 1023T223 930V1104Q374 1175 487 1276T647 1472H763V0Z" transform="translate(-9.32 0) scale(0.01636 -0.01587)" fill="#111"/></g>
<g transform="translate(911.30 1133.60) scale(1 1.035)"><text x="-9.32" y="0" font-size="33.5">2</text></g>
<g transform="translate(1029.10 1133.60) scale(1 1.035)"><text x="-9.32" y="0" font-size="33.5">3</text></g>
<g transform="translate(1146.90 1133.60) scale(1 1.035)"><text x="-9.32" y="0" font-size="33.5">4</text></g>
<g transform="translate(1264.70 1133.60) scale(1 1.035)"><text x="-9.32" y="0" font-size="33.5">5</text></g>
<g transform="translate(1382.50 1133.60) scale(1 1.035)"><text x="-9.32" y="0" font-size="33.5">6</text></g>
<path d="M795.00,1072.40 L799.89,1072.44 L804.98,1072.54 L810.16,1072.66 L815.29,1072.77 L820.26,1072.83 L824.95,1072.81 L829.24,1072.68 L833.00,1072.40 L834.86,1072.15 L836.49,1071.82 L837.94,1071.45 L839.32,1071.06 L840.69,1070.67 L842.14,1070.29 L843.75,1069.96 L845.60,1069.70 L849.28,1069.38 L853.52,1069.17 L858.16,1069.05 L863.05,1069.00 L868.02,1069.02 L872.92,1069.08 L877.60,1069.18 L881.90,1069.30 L885.06,1069.43 L888.02,1069.63 L890.86,1069.86 L893.65,1070.11 L896.44,1070.37 L899.32,1070.62 L902.35,1070.83 L905.60,1071.00 L910.53,1071.18 L916.13,1071.34 L922.10,1071.48 L928.17,1071.58 L934.04,1071.64 L939.41,1071.63 L943.99,1071.56 L947.50,1071.40 L948.51,1071.32 L949.39,1071.22 L950.15,1071.10 L950.84,1070.99 L951.49,1070.86 L952.13,1070.74 L952.79,1070.62 L953.50,1070.50 L953.51,1048.98 L953.52,1027.17 L953.52,1005.25 L953.52,983.38 L953.53,961.75 L953.55,940.52 L953.57,919.88 L953.60,900.00 L953.62,883.65 L953.62,867.34 L953.62,851.24 L953.63,835.52 L953.66,820.37 L953.72,805.95 L953.83,792.44 L954.00,780.00 L954.15,772.60 L954.33,765.74 L954.52,759.30 L954.73,753.16 L954.95,747.18 L955.18,741.25 L955.39,735.23 L955.60,729.00 L955.76,735.47 L955.91,742.07 L956.05,748.73 L956.20,755.35 L956.35,761.88 L956.53,768.21 L956.75,774.28 L957.00,780.00 L957.23,784.07 L957.50,787.87 L957.79,791.49 L958.09,795.02 L958.40,798.53 L958.69,802.11 L958.96,805.84 L959.20,809.80 L959.45,814.97 L959.67,820.37 L959.86,825.95 L960.03,831.66 L960.20,837.44 L960.36,843.25 L960.52,849.02 L960.70,854.70 L960.89,860.39 L961.08,866.13 L961.27,871.90 L961.45,877.65 L961.64,883.38 L961.83,889.03 L962.01,894.58 L962.20,900.00 L962.36,904.69 L962.50,909.23 L962.63,913.68 L962.77,918.08 L962.92,922.49 L963.09,926.94 L963.28,931.50 L963.50,936.20 L963.79,941.73 L964.10,947.43 L964.45,953.27 L964.82,959.17 L965.21,965.08 L965.62,970.94 L966.05,976.70 L966.50,982.30 L966.93,987.35 L967.37,992.41 L967.83,997.43 L968.31,1002.39 L968.81,1007.25 L969.32,1011.96 L969.85,1016.49 L970.40,1020.80 L970.85,1024.02 L971.32,1027.18 L971.80,1030.25 L972.29,1033.22 L972.79,1036.07 L973.27,1038.80 L973.75,1041.38 L974.20,1043.80 L974.50,1045.35 L974.79,1046.79 L975.08,1048.15 L975.37,1049.46 L975.65,1050.73 L975.93,1052.00 L976.21,1053.28 L976.50,1054.60 L976.60,1052.88 L976.71,1051.30 L976.82,1049.78 L976.92,1048.24 L977.03,1046.57 L977.13,1044.70 L977.22,1042.54 L977.30,1040.00 L977.48,1029.20 L977.55,1014.53 L977.56,996.96 L977.51,977.49 L977.44,957.08 L977.36,936.71 L977.31,917.36 L977.30,900.00 L977.31,886.57 L977.31,873.38 L977.30,860.45 L977.31,847.78 L977.33,835.40 L977.37,823.29 L977.46,811.49 L977.60,800.00 L977.76,790.79 L977.95,781.90 L978.17,773.26 L978.41,764.80 L978.66,756.44 L978.92,748.10 L979.17,739.71 L979.40,731.20 L979.69,737.38 L979.99,743.68 L980.28,750.03 L980.58,756.35 L980.87,762.58 L981.16,768.64 L981.43,774.47 L981.70,780.00 L981.90,784.03 L982.10,787.82 L982.29,791.44 L982.48,794.98 L982.67,798.50 L982.85,802.09 L983.03,805.83 L983.20,809.80 L983.40,814.97 L983.59,820.37 L983.78,825.96 L983.96,831.66 L984.13,837.44 L984.31,843.25 L984.50,849.02 L984.70,854.70 L984.91,860.39 L985.13,866.13 L985.35,871.90 L985.58,877.66 L985.81,883.38 L986.04,889.03 L986.27,894.58 L986.50,900.00 L986.70,904.69 L986.89,909.23 L987.08,913.68 L987.27,918.08 L987.47,922.48 L987.67,926.94 L987.88,931.49 L988.10,936.20 L988.35,941.73 L988.59,947.43 L988.84,953.27 L989.10,959.17 L989.37,965.08 L989.68,970.94 L990.02,976.70 L990.40,982.30 L990.79,987.35 L991.20,992.41 L991.65,997.44 L992.11,1002.40 L992.60,1007.25 L993.12,1011.96 L993.65,1016.49 L994.20,1020.80 L994.65,1024.04 L995.11,1027.25 L995.60,1030.38 L996.09,1033.41 L996.60,1036.30 L997.10,1039.02 L997.60,1041.53 L998.10,1043.80 L998.38,1045.04 L998.65,1046.18 L998.90,1047.23 L999.17,1048.23 L999.44,1049.19 L999.75,1050.12 L1000.10,1051.05 L1000.50,1052.00 L1000.95,1052.97 L1001.44,1053.94 L1001.97,1054.90 L1002.53,1055.85 L1003.12,1056.76 L1003.73,1057.63 L1004.36,1058.45 L1005.00,1059.20 L1005.57,1059.79 L1006.17,1060.34 L1006.78,1060.85 L1007.41,1061.33 L1008.05,1061.78 L1008.70,1062.21 L1009.35,1062.61 L1010.00,1063.00 L1010.61,1063.34 L1011.23,1063.66 L1011.86,1063.95 L1012.49,1064.22 L1013.12,1064.48 L1013.75,1064.72 L1014.38,1064.96 L1015.00,1065.20 L1015.59,1065.43 L1016.21,1065.67 L1016.84,1065.92 L1017.46,1066.15 L1018.05,1066.35 L1018.60,1066.52 L1019.09,1066.64 L1019.50,1066.70 L1019.66,1066.70 L1019.80,1066.69 L1019.93,1066.67 L1020.04,1066.64 L1020.16,1066.60 L1020.27,1066.56 L1020.38,1066.53 L1020.50,1066.50 L1020.51,1038.62 L1020.51,1009.58 L1020.50,980.08 L1020.50,950.81 L1020.51,922.47 L1020.52,895.75 L1020.55,871.36 L1020.60,850.00 L1020.63,839.31 L1020.66,829.47 L1020.68,820.33 L1020.71,811.74 L1020.75,803.56 L1020.81,795.64 L1020.89,787.83 L1021.00,780.00 L1021.11,773.64 L1021.24,767.52 L1021.39,761.59 L1021.55,755.77 L1021.72,750.03 L1021.88,744.31 L1022.04,738.55 L1022.20,732.70 L1022.49,738.61 L1022.78,744.53 L1023.06,750.45 L1023.35,756.37 L1023.64,762.29 L1023.93,768.18 L1024.21,774.06 L1024.50,779.90 L1024.78,785.49 L1025.05,790.93 L1025.32,796.31 L1025.60,801.70 L1025.87,807.17 L1026.14,812.79 L1026.42,818.64 L1026.70,824.80 L1027.08,833.51 L1027.47,843.04 L1027.88,853.08 L1028.29,863.32 L1028.68,873.44 L1029.05,883.14 L1029.40,892.09 L1029.70,900.00 L1029.87,904.35 L1030.01,908.27 L1030.15,911.91 L1030.28,915.37 L1030.40,918.79 L1030.53,922.28 L1030.66,925.98 L1030.80,930.00 L1030.99,935.71 L1031.17,941.85 L1031.35,948.27 L1031.54,954.84 L1031.74,961.44 L1031.96,967.92 L1032.21,974.15 L1032.50,980.00 L1032.75,984.52 L1033.00,988.92 L1033.26,993.20 L1033.53,997.38 L1033.84,1001.47 L1034.18,1005.48 L1034.56,1009.42 L1035.00,1013.30 L1035.42,1016.66 L1035.85,1020.00 L1036.31,1023.31 L1036.81,1026.54 L1037.34,1029.69 L1037.91,1032.71 L1038.53,1035.59 L1039.20,1038.30 L1039.74,1040.22 L1040.29,1042.06 L1040.87,1043.83 L1041.47,1045.53 L1042.10,1047.16 L1042.77,1048.73 L1043.47,1050.24 L1044.20,1051.70 L1044.84,1052.90 L1045.51,1054.08 L1046.20,1055.22 L1046.91,1056.31 L1047.64,1057.35 L1048.40,1058.32 L1049.19,1059.21 L1050.00,1060.00 L1050.68,1060.57 L1051.38,1061.06 L1052.09,1061.50 L1052.81,1061.89 L1053.57,1062.25 L1054.34,1062.59 L1055.15,1062.94 L1056.00,1063.30 L1057.11,1063.75 L1058.27,1064.19 L1059.48,1064.62 L1060.74,1065.03 L1062.03,1065.42 L1063.34,1065.80 L1064.67,1066.16 L1066.00,1066.50 L1067.46,1066.86 L1068.90,1067.20 L1070.37,1067.52 L1071.86,1067.82 L1073.40,1068.10 L1075.01,1068.36 L1076.70,1068.59 L1078.50,1068.80 L1081.59,1069.06 L1085.33,1069.28 L1089.41,1069.46 L1093.55,1069.59 L1097.45,1069.66 L1100.80,1069.67 L1103.32,1069.62 L1104.70,1069.50 L1104.78,1069.48 L1104.85,1069.45 L1104.90,1069.43 L1104.94,1069.40 L1104.98,1069.38 L1105.02,1069.35 L1105.05,1069.33 L1105.10,1069.30 L1105.12,1047.55 L1105.12,1024.96 L1105.12,1002.04 L1105.12,979.28 L1105.14,957.20 L1105.16,936.29 L1105.22,917.05 L1105.30,900.00 L1105.35,890.96 L1105.39,882.56 L1105.43,874.71 L1105.47,867.30 L1105.54,860.23 L1105.65,853.39 L1105.80,846.68 L1106.00,840.00 L1106.21,834.70 L1106.47,829.61 L1106.75,824.69 L1107.05,819.88 L1107.37,815.13 L1107.69,810.40 L1108.00,805.64 L1108.30,800.80 L1108.57,804.44 L1108.84,808.07 L1109.11,811.69 L1109.38,815.31 L1109.66,818.94 L1109.93,822.60 L1110.21,826.28 L1110.50,830.00 L1110.81,833.87 L1111.13,837.66 L1111.46,841.43 L1111.79,845.24 L1112.12,849.17 L1112.45,853.28 L1112.78,857.63 L1113.10,862.30 L1113.56,869.96 L1114.00,878.35 L1114.42,887.31 L1114.85,896.65 L1115.28,906.23 L1115.72,915.85 L1116.20,925.37 L1116.70,934.60 L1117.25,943.90 L1117.83,953.59 L1118.45,963.42 L1119.08,973.18 L1119.71,982.63 L1120.33,991.55 L1120.93,999.72 L1121.50,1006.90 L1121.79,1010.55 L1122.05,1013.91 L1122.29,1017.02 L1122.53,1019.95 L1122.79,1022.75 L1123.09,1025.49 L1123.46,1028.22 L1123.90,1031.00 L1124.36,1033.57 L1124.84,1036.14 L1125.36,1038.70 L1125.92,1041.21 L1126.52,1043.64 L1127.18,1045.97 L1127.91,1048.17 L1128.70,1050.20 L1129.34,1051.65 L1130.00,1053.03 L1130.69,1054.35 L1131.42,1055.61 L1132.19,1056.79 L1133.00,1057.90 L1133.87,1058.94 L1134.80,1059.90 L1135.71,1060.71 L1136.66,1061.44 L1137.66,1062.10 L1138.70,1062.70 L1139.78,1063.26 L1140.89,1063.77 L1142.03,1064.25 L1143.20,1064.70 L1144.53,1065.15 L1145.90,1065.52 L1147.30,1065.84 L1148.75,1066.11 L1150.24,1066.35 L1151.78,1066.59 L1153.36,1066.83 L1155.00,1067.10 L1157.11,1067.48 L1159.23,1067.86 L1161.38,1068.24 L1163.64,1068.62 L1166.03,1068.98 L1168.60,1069.32 L1171.41,1069.63 L1174.50,1069.90 L1181.43,1070.31 L1189.41,1070.56 L1198.27,1070.70 L1207.84,1070.76 L1217.97,1070.77 L1228.48,1070.75 L1239.21,1070.75 L1250.00,1070.80 L1264.80,1070.89 L1280.54,1070.96 L1297.01,1071.02 L1313.98,1071.06 L1331.24,1071.09 L1348.58,1071.12 L1365.77,1071.16 L1382.60,1071.20" fill="none" stroke="#262626" stroke-width="2.5" stroke-linejoin="round" stroke-linecap="round"/>
<text font-size="47" transform="translate(719.3 641.5) scale(1 1.01)">D</text>
<text x="753.6" y="858.2" font-size="36" text-anchor="middle" transform="rotate(-90 753.6 858.2)">Intensity / a.u.</text>
<text x="1088.6" y="1178.7" font-size="36.7" text-anchor="middle">Time / min</text>
<text x="946.2" y="707.6" font-size="30.6" transform="rotate(-30 946.2 707.6)" text-anchor="start" ><tspan font-style="italic">p</tspan>-xylene</text>
<text x="995.3" y="723.55" font-size="30.4" transform="rotate(-30 995.3 723.55)" text-anchor="start" ><tspan font-style="italic">m</tspan>-xylene</text>
<text x="1036.9" y="747" font-size="30.4" transform="rotate(-30 1036.9 747)" text-anchor="start" >ethylbenzene</text>
<text x="1111" y="790.3" font-size="30.5" transform="rotate(-30 1111 790.3)" text-anchor="start" ><tspan font-style="italic">o</tspan>-xylene</text>
</svg>
</body></html>
